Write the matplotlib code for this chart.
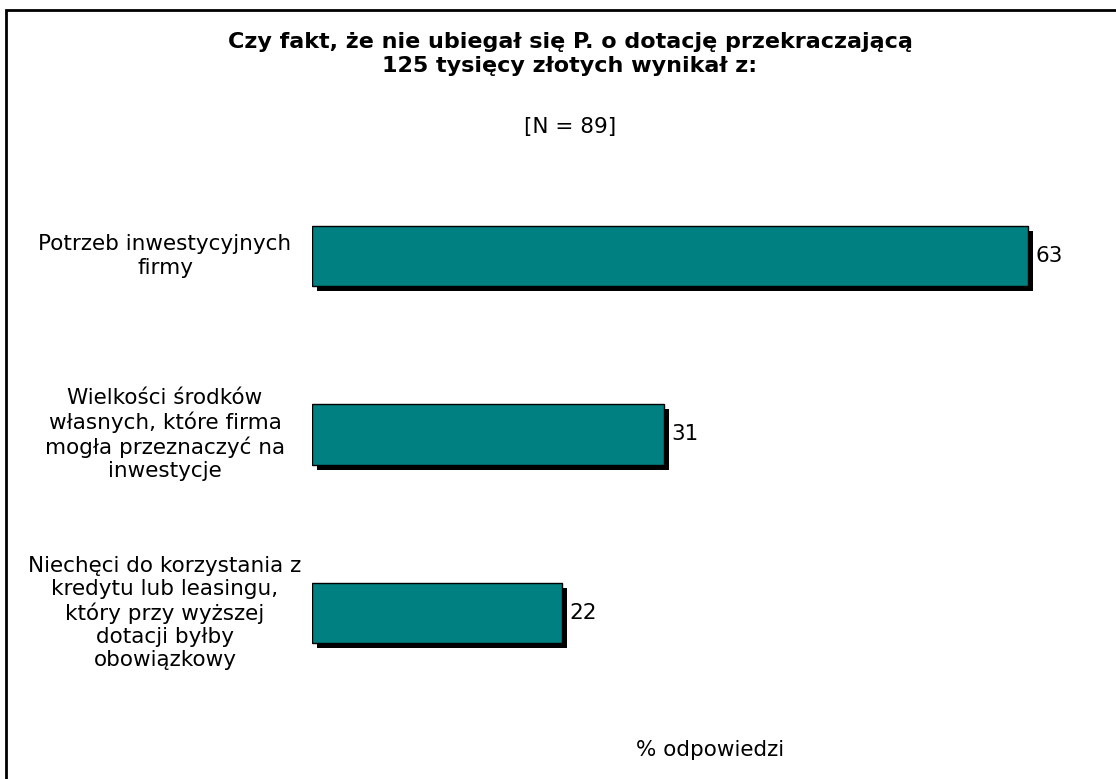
import matplotlib
matplotlib.use("Agg")
import matplotlib.pyplot as plt
import matplotlib.patheffects as pe
from matplotlib.patches import Rectangle

# data
categories = ["Potrzeb inwestycyjnych\nfirmy",
              "Wielkości środków\nwłasnych, które firma\nmogła przeznaczyć na\ninwestycje",
              "Niechęci do korzystania z\nkredytu lub leasingu,\nktóry przy wyższej\ndotacji byłby\nobowiązkowy"]
values = [63, 31, 22]

W, H = 1116, 779
fig = plt.figure(figsize=(W / 100, H / 100), dpi=100)
fig.patch.set_facecolor("white")

# outer frame (only left and top edges visible in the picture)
fig.patches.append(Rectangle((6 / W, -0.05), 1.2, (H - 10) / H + 0.05,
                             transform=fig.transFigure, fill=False,
                             edgecolor="black", linewidth=2))

# axes placed so that 0 is at x=312 px
left_px, right_px = 312, 312 + 70 * 11.37
top_px, bot_px = 149, 720
ax = fig.add_axes([left_px / W, 1 - bot_px / H,
                   (right_px - left_px) / W, (bot_px - top_px) / H])
ax.set_xlim(0, 70)
ax.set_ylim(2.6, -0.6)
ax.axis("off")

ypos = list(range(len(values)))
bars = ax.barh(ypos, values, height=0.34, color="#008080",
               edgecolor="black", linewidth=1)
for b in bars:
    b.set_path_effects([pe.SimplePatchShadow(offset=(3.6, -3.6),
                                             shadow_rgbFace="black", alpha=1),
                        pe.Normal()])

for y, v in zip(ypos, values):
    ax.text(v + 0.6, y, str(v), va="center", ha="left", fontsize=15.5)

# category labels centred at x=165 px, level with the bars
to_fig = fig.transFigure.inverted()
for y, lab in zip(ypos, categories):
    fy = to_fig.transform(ax.transData.transform((0, y)))[1]
    fig.text(165 / W, fy, lab, fontsize=15.5, ha="center", va="center",
             linespacing=1.2)

fig.text(570 / W, 1 - 54 / H,
         "Czy fakt, że nie ubiegał się P. o dotację przekraczającą\n125 tysięcy złotych wynikał z:",
         ha="center", va="center", fontsize=16, fontweight="bold", linespacing=1.2)
fig.text(570 / W, 1 - 127 / H, "[N = 89]", ha="center", va="center", fontsize=15.5)
fig.text(710 / W, 1 - 750 / H, "% odpowiedzi", ha="center", va="center", fontsize=15.5)

fig.savefig("out.png", dpi=100, facecolor="white")
